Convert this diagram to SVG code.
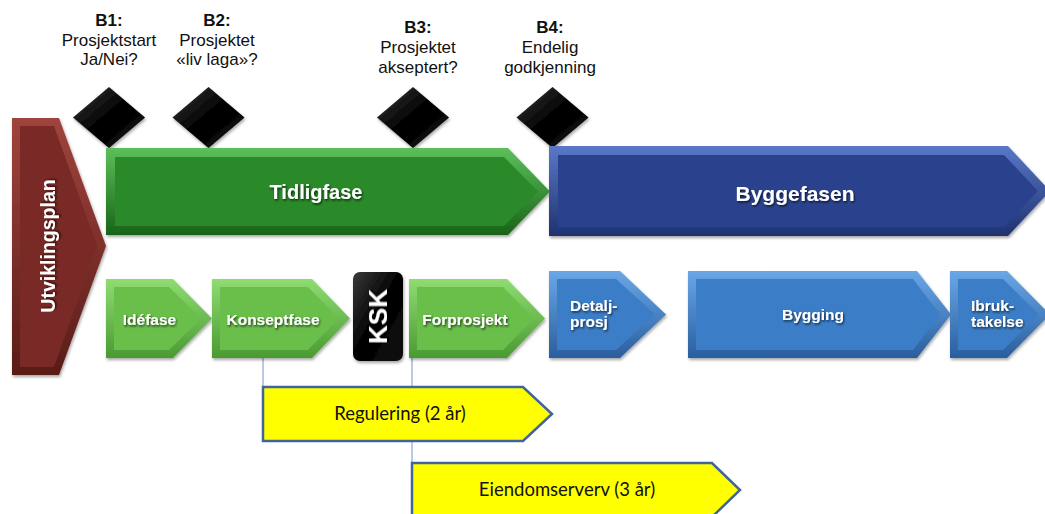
<svg xmlns="http://www.w3.org/2000/svg" width="1045" height="514" viewBox="0 0 1045 514">
<defs>
  <linearGradient id="gMaroon" x1="0" y1="0" x2="0" y2="1"><stop offset="0" stop-color="#a0443d"/><stop offset="1" stop-color="#5a1c18"/></linearGradient>
  <linearGradient id="gGreen" x1="0" y1="0" x2="0" y2="1"><stop offset="0" stop-color="#5cc05a"/><stop offset="1" stop-color="#196318"/></linearGradient>
  <linearGradient id="gBlue" x1="0" y1="0" x2="0" y2="1"><stop offset="0" stop-color="#5a78c8"/><stop offset="1" stop-color="#1f3270"/></linearGradient>
  <linearGradient id="gLGreen" x1="0" y1="0" x2="0" y2="1"><stop offset="0" stop-color="#8fdc72"/><stop offset="1" stop-color="#4a9a32"/></linearGradient>
  <linearGradient id="gLBlue" x1="0" y1="0" x2="0" y2="1"><stop offset="0" stop-color="#6aa7e6"/><stop offset="1" stop-color="#2a5e9e"/></linearGradient>
  <linearGradient id="gBlack" x1="0" y1="0" x2="1" y2="1"><stop offset="0" stop-color="#3a3a3a"/><stop offset="0.5" stop-color="#000"/><stop offset="1" stop-color="#111"/></linearGradient>
  <filter id="sh" x="-10%" y="-10%" width="125%" height="130%"><feDropShadow dx="1" dy="2" stdDeviation="1.5" flood-color="#000" flood-opacity="0.35"/></filter>
  <filter id="tsh" x="-10%" y="-30%" width="130%" height="170%"><feDropShadow dx="1" dy="1.5" stdDeviation="1" flood-color="#000" flood-opacity="0.7"/></filter>
  <style>
    .q{font-family:"Liberation Sans",Arial,sans-serif;font-size:17px;fill:#111;text-anchor:middle}
    .qb{font-weight:bold}
    .w{font-family:"Liberation Sans",Arial,sans-serif;font-weight:bold;fill:#fff;filter:url(#tsh)}
    .s{font-size:15.5px}
    .y{fill:#ffff00;stroke:#41659b;stroke-width:2.5}
    .yt{font-family:Lato,"Open Sans",sans-serif;font-size:18.5px;fill:#111;text-anchor:middle}
    .con{stroke:#7094c8;stroke-width:1;fill:none}
  </style>
</defs>
<rect width="1045" height="514" fill="#fff"/>

<g id="connectors">
  <line class="con" x1="263" y1="358" x2="263" y2="388"/>
  <line class="con" x1="412" y1="358" x2="412" y2="464"/>
</g>

<g id="utviklingsplan" filter="url(#sh)">
  <polygon points="12,118 59,118 106,246 59,375 12,375" fill="url(#gMaroon)"/>
  <polygon points="20,126 54,126 97,246 54,367 20,367" fill="#7a2a25"/>
  <text class="w" font-size="19.5" transform="translate(55,246) rotate(-90)" text-anchor="middle">Utviklingsplan</text>
</g>

<g id="b1">
  <text class="q qb" x="109" y="26">B1:</text>
  <text class="q" x="109" y="46">Prosjektstart</text>
  <text class="q" x="109" y="65">Ja/Nei?</text>
  <polygon points="109,87 145,117.5 109,148 73,117.5" fill="url(#gBlack)" filter="url(#sh)"/>
</g>
<g id="b2">
  <text class="q qb" x="217" y="26">B2:</text>
  <text class="q" x="217" y="46">Prosjektet</text>
  <text class="q" x="217" y="65">«liv laga»?</text>
  <polygon points="208.5,87 244.5,117.5 208.5,148 172.5,117.5" fill="url(#gBlack)" filter="url(#sh)"/>
</g>
<g id="b3">
  <text class="q qb" x="418" y="33">B3:</text>
  <text class="q" x="418" y="53">Prosjektet</text>
  <text class="q" x="418" y="73">akseptert?</text>
  <polygon points="413,87 449,117.5 413,148 377,117.5" fill="url(#gBlack)" filter="url(#sh)"/>
</g>
<g id="b4">
  <text class="q qb" x="550" y="33">B4:</text>
  <text class="q" x="550" y="53">Endelig</text>
  <text class="q" x="550" y="73">godkjenning</text>
  <polygon points="552.5,87 588.5,117.5 552.5,148 516.5,117.5" fill="url(#gBlack)" filter="url(#sh)"/>
</g>

<g id="tidligfase" filter="url(#sh)">
  <polygon points="106,148 508,148 550,191.5 508,235 106,235" fill="url(#gGreen)"/>
  <polygon points="115,157 504,157 538,191.5 504,226 115,226" fill="#2a8a29"/>
  <text class="w" font-size="20" x="316" y="199" text-anchor="middle">Tidligfase</text>
</g>

<g id="byggefasen" filter="url(#sh)">
  <polygon points="549,146 1008,146 1050,191 1008,236 549,236" fill="url(#gBlue)"/>
  <polygon points="558,155 1004,155 1038,191 1004,227 558,227" fill="#2b438e"/>
  <text class="w" font-size="21" x="795" y="201" text-anchor="middle">Byggefasen</text>
</g>

<g id="idefase" filter="url(#sh)">
  <polygon points="106,279 173,279 212,318.5 173,358 106,358" fill="url(#gLGreen)"/>
  <polygon points="114,287 169,287 201,318.5 169,350 114,350" fill="#69bf49"/>
  <text class="w s" x="149.5" y="325" text-anchor="middle">Idéfase</text>
</g>
<g id="konseptfase" filter="url(#sh)">
  <polygon points="212,279 312,279 350,318.5 312,358 212,358" fill="url(#gLGreen)"/>
  <polygon points="220,287 308,287 339,318.5 308,350 220,350" fill="#69bf49"/>
  <text class="w s" x="273" y="325" text-anchor="middle">Konseptfase</text>
</g>
<g id="ksk" filter="url(#sh)">
  <rect x="353" y="272" width="50" height="89" rx="7" fill="url(#gBlack)"/>
  <text class="w" font-size="26" transform="translate(387,316.5) rotate(-90)" text-anchor="middle">KSK</text>
</g>
<g id="forprosjekt" filter="url(#sh)">
  <polygon points="409,279 507,279 545,318.5 507,358 409,358" fill="url(#gLGreen)"/>
  <polygon points="417,287 503,287 534,318.5 503,350 417,350" fill="#69bf49"/>
  <text class="w s" x="465" y="325" text-anchor="middle">Forprosjekt</text>
</g>

<g id="detaljprosj" filter="url(#sh)">
  <polygon points="549,271 620,271 666,314.5 620,358 549,358" fill="url(#gLBlue)"/>
  <polygon points="557,279 616,279 655,314.5 616,350 557,350" fill="#3b7ec7"/>
  <text class="w s" x="570" y="311">Detalj-</text>
  <text class="w s" x="570" y="327">prosj</text>
</g>
<g id="bygging" filter="url(#sh)">
  <polygon points="688,271 917,271 951,314.5 917,358 688,358" fill="url(#gLBlue)"/>
  <polygon points="696,279 913,279 940,314.5 913,350 696,350" fill="#3b7ec7"/>
  <text class="w s" x="813" y="320" text-anchor="middle">Bygging</text>
</g>
<g id="ibruktakelse" filter="url(#sh)">
  <polygon points="950,271 1007,271 1050,314.5 1007,358 950,358" fill="url(#gLBlue)"/>
  <polygon points="958,279 1003,279 1039,314.5 1003,350 958,350" fill="#3b7ec7"/>
  <text class="w s" x="971" y="311">Ibruk-</text>
  <text class="w s" x="971" y="327">takelse</text>
</g>

<g id="regulering">
  <polygon class="y" points="263,387 523,387 552,414 523,441 263,441"/>
  <text class="yt" x="400" y="420">Regulering (2 år)</text>
</g>
<g id="eiendomserverv">
  <polygon class="y" points="412,463 712,463 740,490 712,517 412,517"/>
  <text class="yt" x="567" y="496">Eiendomserverv (3 år)</text>
</g>
</svg>
